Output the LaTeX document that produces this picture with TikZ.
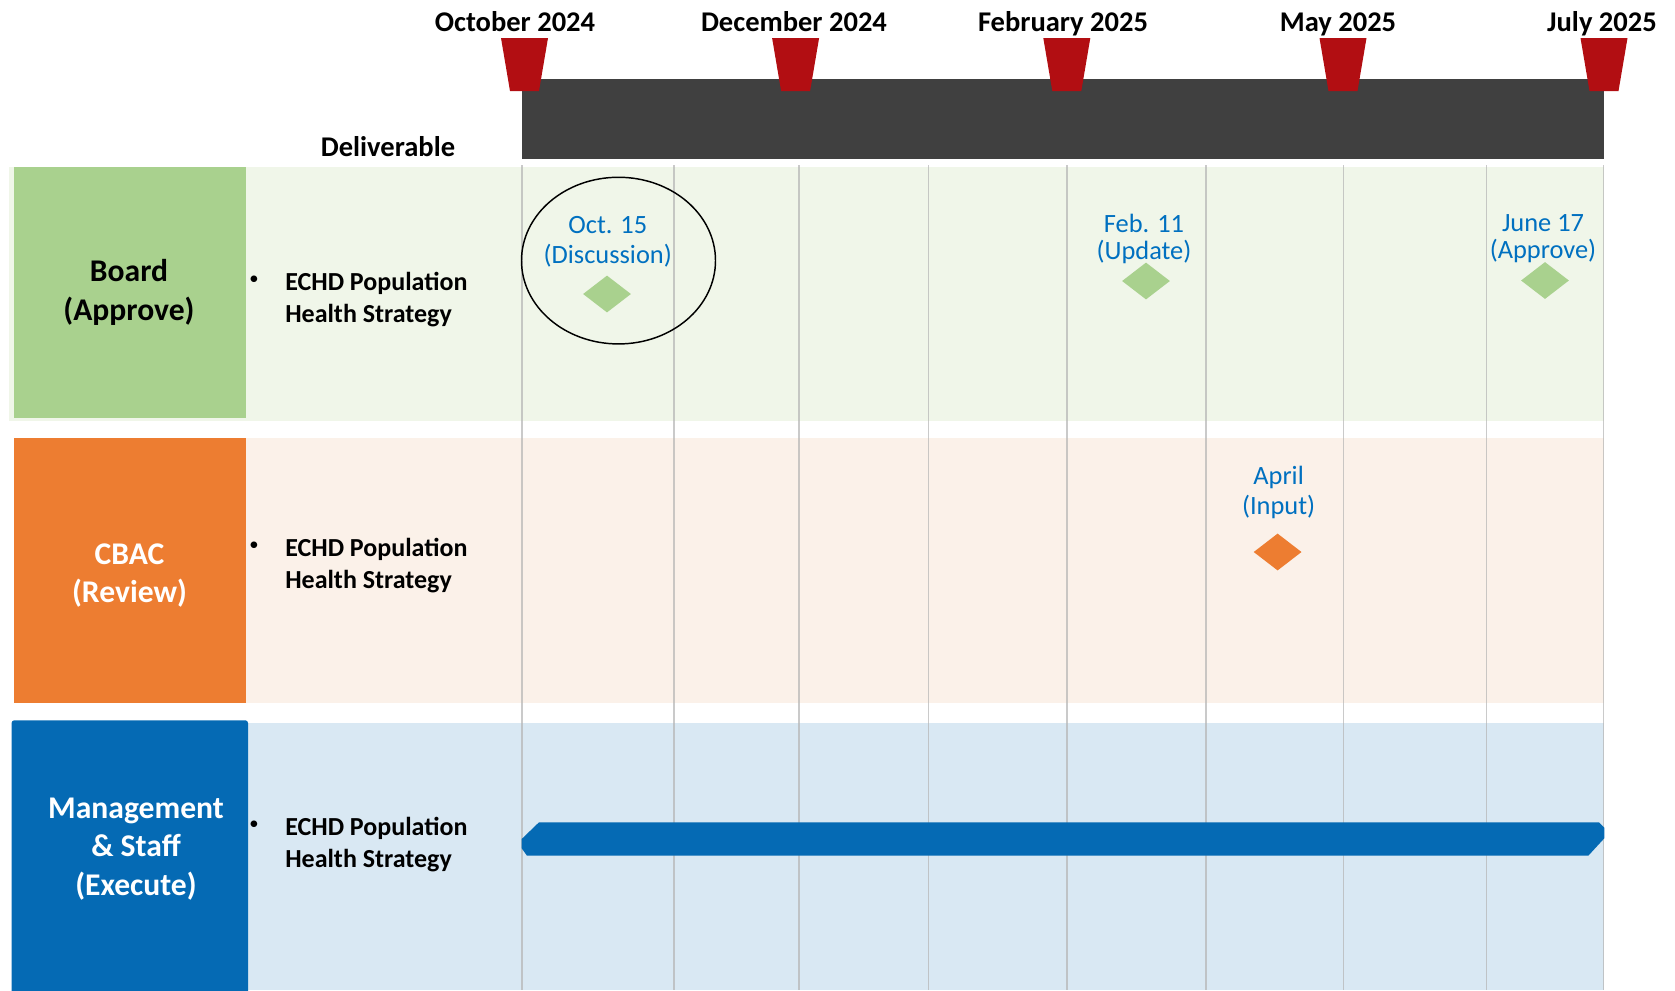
\documentclass[tikz,border=0pt]{standalone}
\usepackage{fontspec}
\setmainfont{Carlito}
\usepackage{tikz}
\usetikzlibrary{shapes.geometric}

\definecolor{boardgreen}{HTML}{A9D18E}
\definecolor{boardbg}{HTML}{F0F6E9}
\definecolor{cbacorange}{HTML}{ED7D31}
\definecolor{cbacbg}{HTML}{FBF1E9}
\definecolor{staffblue}{HTML}{056AB4}
\definecolor{staffbg}{HTML}{D9E8F3}
\definecolor{noteblue}{HTML}{0070C0}
\definecolor{markred}{HTML}{B20E12}
\definecolor{headgray}{HTML}{404040}
\definecolor{gridgray}{HTML}{B4B4B4}

\tikzset{
    month/.style={font=\fontsize{21.4}{25}\selectfont\bfseries, anchor=base, inner sep=0pt},
    role/.style={font=\fontsize{23.7}{28.9}\selectfont\bfseries, align=center, inner sep=0pt},
    item/.style={font=\fontsize{19.5}{24}\selectfont\bfseries, align=left, anchor=west, inner sep=0pt},
    bullet/.style={font=\fontsize{14}{16}\selectfont, inner sep=0pt},
    note/.style={font=\fontsize{19.8}{22.5}\selectfont, text=noteblue, align=center, inner sep=0pt},
    milestone/.style={diamond, inner sep=0pt, minimum width=36pt, minimum height=27.75pt},
    gridline/.style={gridgray, line width=1.1pt, opacity=0.7}
}

\begin{document}
\begin{tikzpicture}[x=0.75pt, y=-0.75pt]
        \useasboundingbox (0,0) rectangle (1675,990);

        % Timeline header
        \fill[headgray] (522,79) rectangle (1603.5,158.7);
        \foreach \c in {524.5, 795.6, 1066.8, 1343, 1604}
            \fill[markred] (\c-23.5,38) -- (\c+23.5,38) -- (\c+14.5,91) -- (\c-14.5,91) -- cycle;

        \node[month] (oct) at (515,31) {October 2024};
        \node[month] (dec) at (794,31) {December 2024};
        \node[month] (feb) at (1063,31) {February 2025};
        \node[month] (may) at (1338,31) {May 2025};
        \node[month] (jul) at (1602,31) {July 2025};
        \node[month] (deliv) at (388,156) {Deliverable};

        % Swim lanes
        \fill[boardbg] (9,167) rectangle (1603.5,420.5);
        \fill[boardgreen] (14,167) rectangle (246,418);
        \fill[cbacbg] (14,438) rectangle (1603.5,703);
        \fill[cbacorange] (14,438) rectangle (246,703);
        \fill[staffbg] (248,722.7) rectangle (1603.5,990);
        \fill[staffblue, rounded corners=2pt] (11.6,996) -- (11.6,720.3) -- (248,720.3) -- (248,996) -- cycle;

        \foreach \x in {522, 674, 799, 928.5, 1067, 1206, 1343.5, 1486.5, 1603.5}
            \draw[gridline] (\x,165) -- (\x,990);

        \node[role] (board) at (129,292.5) {Board\\(Approve)};
        \node[role, text=white] (cbac) at (129.5,575.5) {CBAC\\(Review)};
        \node[role, text=white] (staff) at (136,849) {Management\\\& Staff\\(Execute)};

        % Deliverables
        \node[bullet] (b1) at (254,280) {\textbullet};
        \node[item] (d1) at (285,300) {ECHD Population\\Health Strategy};
        \node[bullet] (b2) at (254,546) {\textbullet};
        \node[item] (d2) at (285,566) {ECHD Population\\Health Strategy};
        \node[bullet] (b3) at (254,825) {\textbullet};
        \node[item] (d3) at (285,845) {ECHD Population\\Health Strategy};

        % Milestones
        \node[milestone, fill=boardgreen] (m1) at (607,294) {};
        \node[note] (n1) at (607.8,242) {Oct. 15\\(Discussion)};
        \node[draw, ellipse, line width=1.1pt, minimum width=145.5pt, minimum height=125pt] (focus) at (618.5,260.6) {};

        \node[milestone, fill=boardgreen] (m2) at (1146,281) {};
        \node[note, font=\fontsize{19.8}{20.2}\selectfont] (n2) at (1144,239) {Feb. 11\\(Update)};

        \node[milestone, fill=boardgreen] (m3) at (1545,280.5) {};
        \node[note, font=\fontsize{19.8}{20}\selectfont] (n3) at (1543,238.5) {June 17\\(Approve)};

        \node[milestone, fill=cbacorange] (m4) at (1277.6,552) {};
        \node[note] (n4) at (1278.6,492.5) {April\\(Input)};

        % Execution bar
        \fill[staffblue] (539,822.3) -- (1599,822.3) -- (1604.3,827.7) -- (1604.3,838.3)
            -- (1588.3,855.7) -- (527,855.7) -- (521.7,848.3) -- (521.7,839) -- cycle;
    \end{tikzpicture}
\end{document}
